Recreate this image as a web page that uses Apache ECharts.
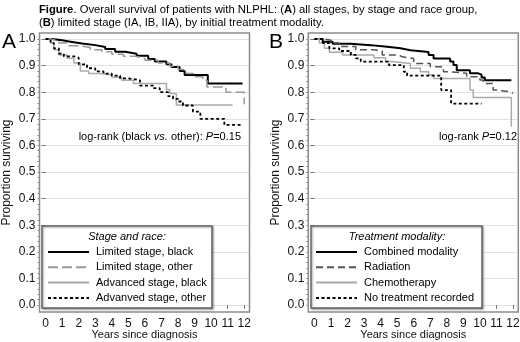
<!DOCTYPE html>
<html>
<head>
<meta charset="utf-8">
<script src="https://cdn.jsdelivr.net/npm/echarts@6/dist/echarts.min.js"></script>
<style>html,body{margin:0;padding:0;background:#fff}#chart{width:520px;height:342px}</style>
</head>
<body>
<div id="chart"></div>
<script>
// Panel A: all stages, by stage and race  ([years, proportion surviving])
var limitedBlack = [[0,1],[0.4,0.995],[1.0,0.99],[1.5,0.983],[2.2,0.977],[3.0,0.97],[3.6,0.962],[4.2,0.952],[4.8,0.945],[5.5,0.937],[6.2,0.925],[6.6,0.915],[7.3,0.905],[7.6,0.895],[8.1,0.88],[8.4,0.865],[9.8,0.833],[11.9,0.833]];
var limitedOther = [[0,1],[0.3,0.993],[0.8,0.985],[1.4,0.975],[2.0,0.968],[2.7,0.96],[3.4,0.952],[4.0,0.943],[4.7,0.935],[5.4,0.928],[6.0,0.92],[6.8,0.91],[7.5,0.898],[8.0,0.885],[8.5,0.87],[9.0,0.858],[9.5,0.845],[9.75,0.82],[10.9,0.8],[12.0,0.755]];
var advancedBlack = [[0,1],[0.3,0.985],[0.5,0.96],[0.8,0.94],[1.3,0.928],[1.7,0.91],[2.1,0.88],[2.6,0.87],[3.3,0.865],[4.0,0.856],[4.6,0.845],[5.3,0.833],[7.3,0.81],[7.5,0.795],[7.9,0.752],[11.3,0.752]];
var advancedOther = [[0,1],[0.3,0.985],[0.5,0.965],[0.8,0.945],[1.1,0.935],[1.7,0.93],[2.0,0.905],[2.5,0.89],[3.0,0.878],[3.5,0.87],[4.0,0.862],[4.5,0.852],[5.0,0.845],[5.7,0.825],[6.5,0.815],[6.9,0.8],[7.4,0.785],[7.7,0.775],[8.0,0.765],[8.3,0.75],[8.9,0.727],[9.35,0.7],[10.8,0.677],[11.9,0.677]];

// Panel B: limited stage, by initial treatment
var combined = [[0,1],[0.5,0.99],[1.1,0.982],[2.2,0.977],[3.4,0.971],[4.4,0.965],[5.2,0.958],[5.8,0.951],[6.9,0.94],[7.2,0.927],[8.2,0.915],[8.4,0.902],[8.6,0.883],[9.4,0.871],[9.9,0.866],[10.1,0.855],[10.3,0.845],[11.9,0.845]];
var radiation = [[0,1],[0.6,0.995],[1.0,0.985],[1.5,0.972],[2.5,0.96],[3.6,0.955],[4.1,0.94],[5.1,0.933],[5.3,0.927],[6.0,0.908],[7.0,0.896],[7.8,0.877],[8.2,0.871],[9.2,0.858],[10.0,0.846],[10.2,0.833],[10.8,0.808],[11.0,0.802],[11.8,0.796],[12.0,0.796]];
var chemo = [[0,1],[0.3,0.985],[0.6,0.965],[0.9,0.95],[1.7,0.94],[3.6,0.93],[4.3,0.915],[4.7,0.908],[5.8,0.89],[6.4,0.877],[6.9,0.865],[7.2,0.852],[9.4,0.808],[9.6,0.78],[11.9,0.67]];
var noTreatment = [[0,1],[0.5,0.985],[0.9,0.965],[1.5,0.955],[2.2,0.94],[2.5,0.927],[2.8,0.915],[4.5,0.902],[5.4,0.877],[5.6,0.862],[7.66,0.808],[8.26,0.757],[10.1,0.757]];

var yTicks = [0, 0.1, 0.2, 0.3, 0.4, 0.5, 0.6, 0.7, 0.8, 0.9, 1.0];
var xTicks = [0, 1, 2, 3, 4, 5, 6, 7, 8, 9, 10, 11, 12];
var namesA = ['Limited stage, black', 'Limited stage, other', 'Advanced stage, black', 'Advanved stage, other'];
var namesB = ['Combined modality', 'Radiation', 'Chemotherapy', 'No treatment recorded'];

var minorTicks = [];
for (var i = 0; i <= 50; i++) minorTicks.push(+(i * 0.02).toFixed(2));

var FONT = "'Liberation Sans', Arial, sans-serif";
var myChart = echarts.init(document.getElementById('chart'));

function xAx(g) {
  return {
    type: 'value', gridIndex: g, min: -0.37, max: 12.32,
    name: 'Years since diagnosis', nameLocation: 'middle', nameGap: 17, nameMoveOverlap: false,
    nameTextStyle: { fontFamily: FONT, fontSize: 11, color: '#111' },
    axisLine: { show: false },
    axisTick: { customValues: xTicks, length: 4, lineStyle: { color: '#777' } },
    axisLabel: { customValues: xTicks, margin: 6, fontFamily: FONT, fontSize: 12, color: '#111' },
    splitLine: { show: false }
  };
}
function yAx(g) {
  return {
    type: 'value', gridIndex: g, position: 'left', min: -0.0263, max: 1.0226,
    name: 'Proportion surviving', nameLocation: 'middle', nameGap: 27, nameMoveOverlap: false,
    nameTextStyle: { fontFamily: FONT, fontSize: 12, color: '#111' },
    axisLine: { show: false },
    axisTick: { customValues: yTicks, length: 4, lineStyle: { color: '#777' } },
    axisLabel: { customValues: yTicks, margin: 4, fontFamily: FONT, fontSize: 12, color: '#111',
      formatter: function (v) { return v.toFixed(1); } },
    splitLine: { show: true, lineStyle: { color: '#c4c4cc', type: 'dotted', width: 1 } }
  };
}
function yMinor(g) {
  return {
    type: 'value', gridIndex: g, position: 'left', min: -0.0263, max: 1.0226,
    axisLine: { show: false }, axisLabel: { show: false }, splitLine: { show: false },
    axisTick: { customValues: minorTicks, length: 2, lineStyle: { color: '#888' } }
  };
}
function km(name, data, xi, yi, color, width, dash) {
  return {
    name: name, type: 'line', step: 'end', data: data, symbol: 'none',
    xAxisIndex: xi, yAxisIndex: yi, animation: false, silent: true,
    lineStyle: { color: color, width: width, type: dash || 'solid' },
    itemStyle: { color: color }
  };
}
function legendOf(names, left) {
  return {
    data: names, orient: 'vertical', left: left, top: 246.5, z: 20, padding: 0,
    itemWidth: 41, itemHeight: 11, itemGap: 4.3, selectedMode: false,
    itemStyle: { opacity: 0 },
    textStyle: { fontFamily: FONT, fontSize: 11, color: '#000', padding: [0, 0, 0, 2] }
  };
}

myChart.setOption({
  backgroundColor: '#fff',
  animation: false,
  grid: [
    { left: 39.5, top: 33, width: 210, height: 279, show: true, borderColor: '#8c8c8c', borderWidth: 1.5, outerBoundsMode: 'none' },
    { left: 308.3, top: 33, width: 210, height: 279, show: true, borderColor: '#8c8c8c', borderWidth: 1.5, outerBoundsMode: 'none' }
  ],
  xAxis: [xAx(0), xAx(1)],
  yAxis: [yAx(0), yMinor(0), yAx(1), yMinor(1)],
  legend: [legendOf(namesA, 47), legendOf(namesB, 315)],
  series: [
    km(namesA[0], limitedBlack, 0, 0, '#000', 2),
    km(namesA[1], limitedOther, 0, 0, '#999', 1.5, [10, 4]),
    km(namesA[2], advancedBlack, 0, 0, '#aaa', 1.5),
    km(namesA[3], advancedOther, 0, 0, '#000', 1.8, [3, 2.5]),
    km(namesB[0], combined, 1, 2, '#000', 2),
    km(namesB[1], radiation, 1, 2, '#555', 1.5, [7, 4]),
    km(namesB[2], chemo, 1, 2, '#aaa', 1.5),
    km(namesB[3], noTreatment, 1, 2, '#000', 1.8, [3, 2.5])
  ],
  graphic: [
    { type: 'text', left: 39, top: 3, style: {
      text: '{b|Figure}. Overall survival of patients with NLPHL: ({b|A}) all stages, by stage and race group,\n({b|B}) limited stage (IA, IB, IIA), by initial treatment modality.',
      font: '11.25px ' + FONT, fill: '#000', lineHeight: 13,
      rich: { b: { fontWeight: 'bold', fontSize: 11.25, fontFamily: FONT } } } },
    { type: 'text', x: 2, y: 42.5, style: { text: 'A', font: '21px ' + FONT, fill: '#000', verticalAlign: 'middle' } },
    { type: 'text', x: 269, y: 42.5, style: { text: 'B', font: '21px ' + FONT, fill: '#000', verticalAlign: 'middle' } },
    { type: 'text', x: 241, y: 137, style: {
      text: 'log-rank (black {i|vs.} other): {i|P}=0.15', font: '11px ' + FONT, fill: '#000',
      align: 'right', verticalAlign: 'middle', rich: { i: { fontStyle: 'italic', fontSize: 11, fontFamily: FONT } } } },
    { type: 'text', x: 517, y: 137, style: {
      text: 'log-rank {i|P}=0.12', font: '11px ' + FONT, fill: '#000',
      align: 'right', verticalAlign: 'middle', rich: { i: { fontStyle: 'italic', fontSize: 11, fontFamily: FONT } } } },
    { type: 'rect', shape: { x: 42, y: 226, width: 170, height: 82 }, z: 5,
      style: { fill: '#fff', stroke: '#666', lineWidth: 1.5, shadowBlur: 2, shadowOffsetX: 1, shadowOffsetY: 1, shadowColor: 'rgba(0,0,0,0.35)' } },
    { type: 'text', x: 127, y: 237, z: 6, style: { text: 'Stage and race:', font: 'italic 11px ' + FONT, fill: '#000', align: 'center', verticalAlign: 'middle' } },
    { type: 'rect', shape: { x: 311, y: 226, width: 171, height: 82 }, z: 5,
      style: { fill: '#fff', stroke: '#666', lineWidth: 1.5, shadowBlur: 2, shadowOffsetX: 1, shadowOffsetY: 1, shadowColor: 'rgba(0,0,0,0.35)' } },
    { type: 'text', x: 397, y: 237, z: 6, style: { text: 'Treatment modality:', font: 'italic 11px ' + FONT, fill: '#000', align: 'center', verticalAlign: 'middle' } }
  ]
});
</script>
</body>
</html>
